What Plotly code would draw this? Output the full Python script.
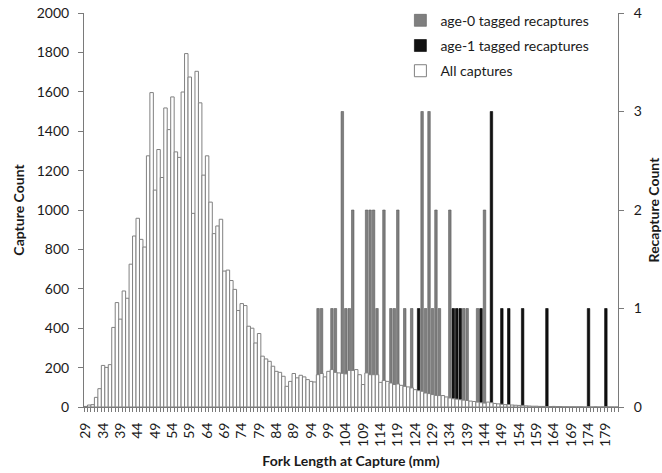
import plotly.graph_objects as go

# Fork length categories (mm)
fork_length = list(range(29, 183))

# All captures (capture count per fork length, 29..182 mm)
all_captures = [
    3, 10, 12, 49, 93, 211, 201, 215, 404, 530,          # 29-38
    446, 589, 552, 725, 868, 958, 851, 812, 1275, 1596,  # 39-48
    1101, 1307, 1165, 1518, 1408, 1574, 1295, 1267, 1599, 1794,  # 49-58
    1675, 983, 1704, 1544, 1177, 1275, 1040, 880, 919, 953,  # 59-68
    690, 695, 642, 597, 490, 525, 515, 410, 400, 325,    # 69-78
    373, 258, 244, 232, 207, 181, 176, 156, 105, 130,    # 79-88
    170, 148, 161, 153, 139, 130, 127, 164, 170, 153,    # 89-98
    181, 190, 176, 173, 171, 168, 186, 186, 190, 164,    # 99-108
    114, 173, 164, 164, 164, 125, 135, 130, 122, 114,    # 109-118
    117, 110, 105, 102, 97, 88, 83, 80, 71, 68,          # 119-128
    63, 59, 58, 58, 51, 46, 42, 40, 37, 35,              # 129-138
    33, 30, 28, 25, 22, 20, 25, 22, 18, 16,              # 139-148
    14, 12, 12, 10, 9, 8, 8, 6, 5, 4,                    # 149-158
    4, 3, 3, 2, 2, 3, 2, 2, 1, 1,                        # 159-168
    1, 1, 1, 1, 0, 1, 0, 1, 0, 0,                        # 169-178
    1, 0, 0, 0,                                          # 179-182
]

# Tagged recaptures (recapture count by fork length)
age0_lengths = [96, 97, 100, 101, 103, 104, 105, 106, 110, 111, 112, 113, 115, 117,
                118, 119, 121, 123, 126, 127, 128, 129, 130, 131, 134, 138, 139, 142, 144]
age0_counts = [1, 1, 1, 1, 3, 1, 1, 2, 2, 2, 2, 1, 2, 1,
               1, 2, 1, 1, 3, 1, 3, 1, 2, 1, 2, 1, 1, 1, 2]

age1_lengths = [125, 135, 136, 137, 143, 146, 149, 151, 155, 162, 174, 179]
age1_counts = [1, 1, 1, 1, 1, 3, 1, 1, 1, 1, 1, 1]

tick_labels = ["29", "34", "39", "44", "49", "54", "59", "64", "69", "74", "79", "84",
               "89", "94", "99", "104", "109", "114", "119", "124", "129", "134", "139",
               "144", "149", "154", "159", "164", "169", "174", "179"]

FONT = "Lato"
TXT = "#1a1a1a"
AX = "#7a7a7a"

fig = go.Figure()

fig.add_trace(go.Bar(
    x=age0_lengths, y=age0_counts, name="age-0 tagged recaptures",
    yaxis="y", width=0.72,
    marker=dict(color="#7f7f7f", line=dict(color="#5a5a5a", width=0.6)),
    legendgroup="a0", legendrank=1,
))
fig.add_trace(go.Bar(
    x=age1_lengths, y=age1_counts, name="age-1 tagged recaptures",
    yaxis="y", width=0.72,
    marker=dict(color="#111111", line=dict(color="#000000", width=0.6)),
    legendgroup="a1", legendrank=2,
))
fig.add_trace(go.Bar(
    x=fork_length, y=all_captures, name="All captures",
    yaxis="y2", width=1.0,
    marker=dict(color="#ffffff", line=dict(color="#808080", width=1)),
    legendgroup="all", legendrank=3,
))

fig.update_layout(
    width=662, height=473,
    margin=dict(l=84, r=44, t=13, b=66, autoexpand=False),
    paper_bgcolor="white", plot_bgcolor="white",
    barmode="overlay",
    font=dict(family=FONT, size=14, color=TXT),
    showlegend=True,
    legend=dict(
        x=0.5925, y=1.021, xanchor="left", yanchor="top",
        bgcolor="rgba(0,0,0,0)", font=dict(size=14, color=TXT),
        tracegroupgap=4, itemwidth=30,
    ),
    xaxis=dict(
        range=[28.5, 182.5],
        tickmode="array",
        tickvals=[int(t) for t in tick_labels],
        ticktext=tick_labels,
        tickangle=-90,
        ticks="",
        ticklabelstandoff=9,
        showline=True, linecolor=AX, linewidth=1,
        showgrid=False, zeroline=False, automargin=False,
        minor=dict(tick0=28.5, dtick=1, ticks="outside", ticklen=4,
                   tickcolor=AX, tickwidth=1, showgrid=False),
        title=dict(text="<b>Fork Length at Capture (mm)</b>",
                   font=dict(size=14, color=TXT), standoff=10),
        tickfont=dict(size=14, color=TXT),
    ),
    yaxis=dict(
        side="right", range=[0, 4], dtick=1,
        ticks="outside", ticklen=5, tickcolor=AX,
        ticklabelstandoff=7,
        showline=True, linecolor=AX, linewidth=1,
        showgrid=False, zeroline=False, automargin=False,
        title=dict(text="<b>Recapture Count</b>", font=dict(size=14, color=TXT), standoff=10),
        tickfont=dict(size=14, color=TXT),
    ),
    yaxis2=dict(
        overlaying="y", side="left", range=[0, 2000], dtick=200,
        ticks="outside", ticklen=5, tickcolor=AX,
        ticklabelstandoff=6,
        showline=True, linecolor=AX, linewidth=1,
        showgrid=False, zeroline=False, automargin=False,
        title=dict(text="<b>Capture Count</b>", font=dict(size=14, color=TXT), standoff=8),
        tickfont=dict(size=14, color=TXT),
    ),
)

fig.write_html("out.html")
